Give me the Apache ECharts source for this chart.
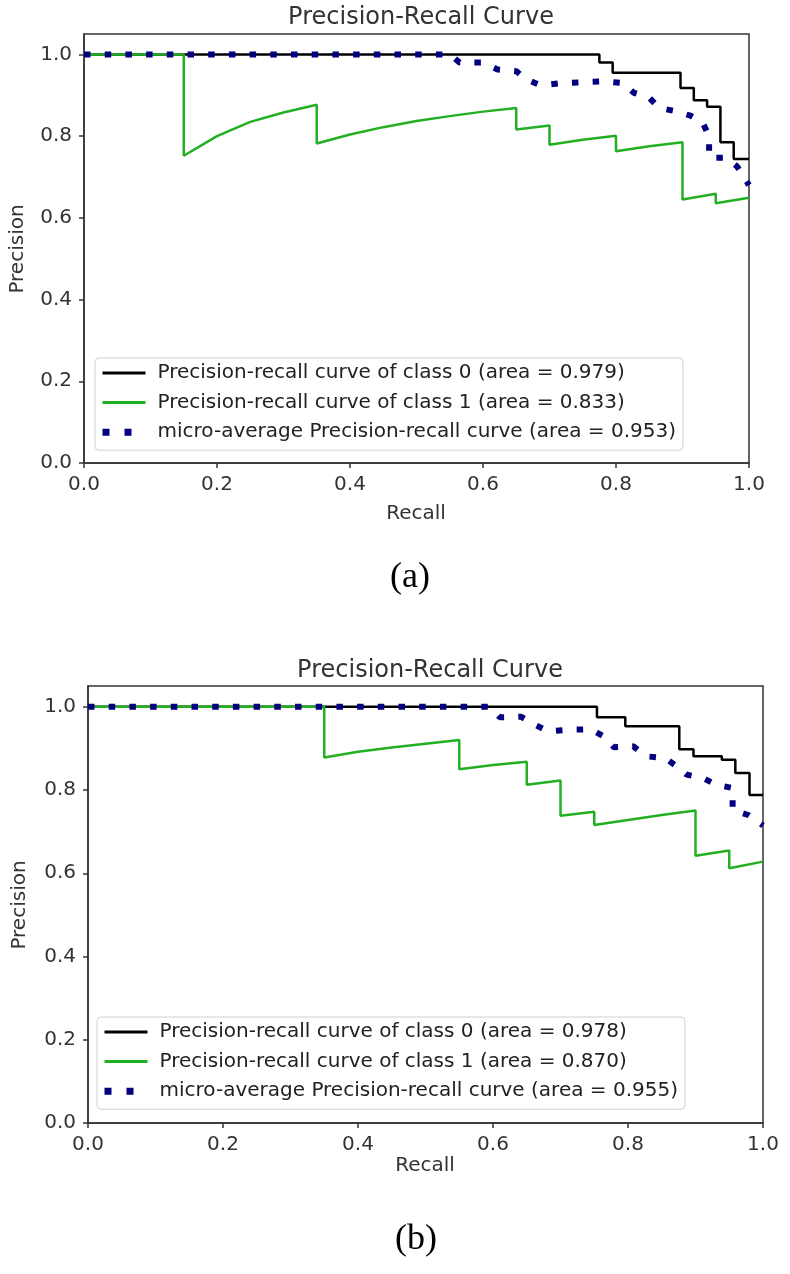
<!DOCTYPE html>
<html><head><meta charset="utf-8">
<script src="https://cdn.jsdelivr.net/npm/echarts@6/dist/echarts.min.js"></script>
<style>html,body{margin:0;padding:0;background:#fff}#c{width:790px;height:1274px}</style>
</head><body><div id="c"></div><script>
const titleText = 'Precision-Recall Curve';
const xTicks = [0, 0.2, 0.4, 0.6, 0.8, 1.0];
const yTicks = [0, 0.2, 0.4, 0.6, 0.8, 1.0];
const namesA = ['Precision-recall curve of class 0 (area = 0.979)', 'Precision-recall curve of class 1 (area = 0.833)', 'micro-average Precision-recall curve (area = 0.953)'];
const namesB = ['Precision-recall curve of class 0 (area = 0.978)', 'Precision-recall curve of class 1 (area = 0.870)', 'micro-average Precision-recall curve (area = 0.955)'];

// (a) class 0
const recA0 = [0, 0.775, 0.775, 0.795, 0.795, 0.897, 0.897, 0.917, 0.917, 0.937, 0.937, 0.957, 0.957, 0.977, 0.977, 1.0];
const preA0 = [1, 1, 0.98, 0.98, 0.955, 0.955, 0.918, 0.918, 0.888, 0.888, 0.872, 0.872, 0.785, 0.785, 0.744, 0.744];
// (a) class 1
const recA1 = [0, 0.15, 0.15, 0.2, 0.25, 0.3, 0.35, 0.35, 0.4, 0.45, 0.5, 0.55, 0.6, 0.65, 0.65, 0.7, 0.7, 0.75, 0.8, 0.8, 0.85, 0.9, 0.9, 0.95, 0.95, 1.0];
const preA1 = [1, 1, 0.752, 0.80, 0.835, 0.858, 0.877, 0.782, 0.804, 0.822, 0.837, 0.849, 0.86, 0.869, 0.816, 0.826, 0.779, 0.791, 0.801, 0.763, 0.775, 0.785, 0.645, 0.659, 0.636, 0.649];
// (a) micro-average
const recAm = [0, 0.55, 0.565, 0.60, 0.622, 0.65, 0.665, 0.687, 0.72, 0.78, 0.81, 0.827, 0.85, 0.865, 0.89, 0.912, 0.93, 0.94, 0.94, 0.965, 0.982, 1.0];
const preAm = [1, 1, 0.98, 0.98, 0.963, 0.959, 0.939, 0.924, 0.93, 0.934, 0.93, 0.906, 0.894, 0.869, 0.861, 0.85, 0.834, 0.80, 0.747, 0.747, 0.726, 0.68];

// (b) class 0
const recB0 = [0, 0.754, 0.754, 0.796, 0.796, 0.876, 0.876, 0.897, 0.897, 0.939, 0.939, 0.959, 0.959, 0.98, 0.98, 1.0];
const preB0 = [1, 1, 0.975, 0.975, 0.953, 0.953, 0.898, 0.898, 0.881, 0.881, 0.873, 0.873, 0.841, 0.841, 0.788, 0.788];
// (b) class 1
const recB1 = [0, 0.35, 0.35, 0.4, 0.45, 0.5, 0.55, 0.55, 0.6, 0.65, 0.65, 0.7, 0.7, 0.75, 0.75, 0.8, 0.85, 0.9, 0.9, 0.95, 0.95, 1.0];
const preB1 = [1, 1, 0.878, 0.892, 0.902, 0.911, 0.92, 0.85, 0.86, 0.868, 0.8125, 0.823, 0.738, 0.748, 0.716, 0.728, 0.74, 0.751, 0.642, 0.655, 0.612, 0.628];
// (b) micro-average
const recBm = [0, 0.595, 0.61, 0.642, 0.662, 0.682, 0.713, 0.745, 0.763, 0.779, 0.808, 0.827, 0.855, 0.871, 0.887, 0.911, 0.931, 0.955, 0.955, 0.978, 1.0];
const preBm = [1, 1, 0.975, 0.976, 0.957, 0.941, 0.945, 0.946, 0.93, 0.903, 0.905, 0.881, 0.877, 0.858, 0.837, 0.829, 0.8125, 0.805, 0.752, 0.74, 0.715];

const FONT = 'DejaVu Sans';
const AX = '#333';
const colors = ['#000000', '#22b022', '#000080'];
const zip = (r, p) => r.map((v, i) => [v, p[i]]);

function xAx(gi) {
  return {
    type: 'value', gridIndex: gi, min: 0, max: 1, interval: 0.2,
    axisLine: {show: true, onZero: false, lineStyle: {color: AX, width: 1.5}},
    axisTick: {show: true, length: 5, lineStyle: {color: AX, width: 1.5}},
    axisLabel: {margin: 12, fontFamily: FONT, fontSize: 20, color: AX, formatter: v => v.toFixed(1), showMaxLabel: true, showMinLabel: true},
    splitLine: {show: false}
  };
}
function yAx(gi) {
  return {
    type: 'value', gridIndex: gi, min: 0, max: 1.05,
    axisLine: {show: true, onZero: false, lineStyle: {color: AX, width: 1.5}},
    axisTick: {show: true, length: 5, customValues: yTicks, lineStyle: {color: AX, width: 1.5}},
    axisLabel: {margin: 12, fontFamily: FONT, fontSize: 20, color: AX, customValues: yTicks, formatter: v => v.toFixed(1)},
    splitLine: {show: false}
  };
}
function ser(name, data, gi, idx) {
  const dotted = idx === 2;
  return {
    type: 'line', name: name, data: data, xAxisIndex: gi, yAxisIndex: gi,
    symbol: 'none', animation: false, z: 2 + idx,
    lineStyle: dotted ? {color: colors[idx], width: 6, type: [6.5, 14.2], cap: 'butt'} : {color: colors[idx], width: 2.5},
    itemStyle: {color: colors[idx]}
  };
}
function legend(names, left, top) {
  return {
    data: names.map((n, i) => ({
      name: n,
      lineStyle: i === 2 ? {width: 7, type: [7, 15], cap: 'butt'} : {width: 3}
    })),
    left: left, top: top, orient: 'vertical', selectedMode: false,
    itemWidth: 43, itemHeight: 14, itemGap: 9.6, padding: [5, 7, 8, 4],
    itemStyle: {opacity: 0},
    backgroundColor: 'rgba(255,255,255,0.85)', borderColor: '#d0d0d0', borderWidth: 1, borderRadius: 4,
    textStyle: {fontFamily: FONT, fontSize: 20, color: '#222', lineHeight: 20, padding: [0, 0, 0, 7]}
  };
}

const chart = echarts.init(document.getElementById('c'), null, {renderer: 'canvas'});
chart.setOption({
  backgroundColor: '#fff',
  animation: false,
  title: [
    {text: titleText, left: 416, top: 1, textAlign: 'center', textStyle: {fontFamily: FONT, fontSize: 24, fontWeight: 'normal', color: AX}},
    {text: titleText, left: 425, top: 654, textAlign: 'center', textStyle: {fontFamily: FONT, fontSize: 24, fontWeight: 'normal', color: AX}}
  ],
  grid: [
    {left: 84, top: 34, width: 665, height: 429, show: true, borderColor: AX, borderWidth: 1.5, containLabel: false},
    {left: 88, top: 686, width: 675, height: 437, show: true, borderColor: AX, borderWidth: 1.5, containLabel: false}
  ],
  xAxis: [xAx(0), xAx(1)],
  yAxis: [yAx(0), yAx(1)],
  legend: [legend(namesA, 95, 358), legend(namesB, 97, 1017)],
  series: [
    ser(namesA[0], zip(recA0, preA0), 0, 0),
    ser(namesA[1], zip(recA1, preA1), 0, 1),
    ser(namesA[2], zip(recAm, preAm), 0, 2),
    ser(namesB[0], zip(recB0, preB0), 1, 0),
    ser(namesB[1], zip(recB1, preB1), 1, 1),
    ser(namesB[2], zip(recBm, preBm), 1, 2)
  ],
  graphic: [
    {type: 'text', x: 18, y: 249, rotation: Math.PI / 2, style: {text: 'Precision', font: '20px "DejaVu Sans"', fill: AX, align: 'center', verticalAlign: 'middle'}},
    {type: 'text', x: 416, y: 514, style: {text: 'Recall', font: '20px "DejaVu Sans"', fill: AX, align: 'center', verticalAlign: 'middle'}},
    {type: 'text', x: 410, y: 578, style: {text: '(a)', font: '36px "Liberation Serif"', fill: '#000', align: 'center', verticalAlign: 'middle'}},
    {type: 'text', x: 20, y: 905, rotation: Math.PI / 2, style: {text: 'Precision', font: '20px "DejaVu Sans"', fill: AX, align: 'center', verticalAlign: 'middle'}},
    {type: 'text', x: 425, y: 1166, style: {text: 'Recall', font: '20px "DejaVu Sans"', fill: AX, align: 'center', verticalAlign: 'middle'}},
    {type: 'text', x: 416, y: 1240, style: {text: '(b)', font: '36px "Liberation Serif"', fill: '#000', align: 'center', verticalAlign: 'middle'}}
  ]
});
</script></body></html>
